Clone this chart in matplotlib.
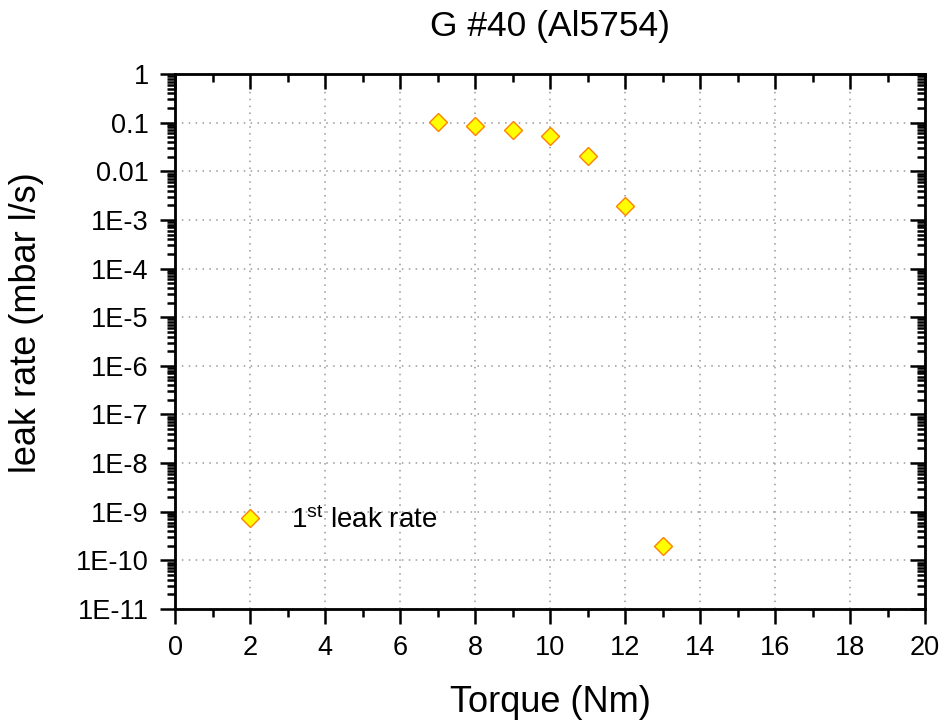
import matplotlib
matplotlib.use("Agg")
import matplotlib.pyplot as plt
from matplotlib.ticker import FixedLocator, MultipleLocator, LogLocator, NullFormatter

plt.rcParams['font.family'] = ['Liberation Sans', 'DejaVu Sans']
plt.rcParams['mathtext.default'] = 'regular'

# data
torque = [7, 8, 9, 10, 11, 12, 13]
leak_rate = [0.102, 0.087, 0.071, 0.054, 0.021, 0.0019, 1.94e-10]

title = "G #40 (Al5754)"
xlabel = "Torque (Nm)"
ylabel = "leak rate (mbar l/s)"
legend_label = "1$^{st}$ leak rate"

xticks = [0, 2, 4, 6, 8, 10, 12, 14, 16, 18, 20]
yticks = [1, 1e-1, 1e-2, 1e-3, 1e-4, 1e-5, 1e-6, 1e-7, 1e-8, 1e-9, 1e-10, 1e-11]
ytick_labels = ['1', '0.1', '0.01', '1E-3', '1E-4', '1E-5', '1E-6', '1E-7',
                '1E-8', '1E-9', '1E-10', '1E-11']

fig = plt.figure(figsize=(9.42, 7.22), dpi=100)
ax = fig.add_axes([0.1858, 0.1565, 0.7962, 0.741])

ax.plot(torque, leak_rate, linestyle='none', marker='D', markersize=9.6,
        markerfacecolor='#FFFF00', markeredgecolor='#FF7F00',
        markeredgewidth=1.0, label=legend_label, zorder=3)

ax.set_yscale('log')
ax.set_xlim(0, 20)
ax.set_ylim(1e-11, 1)

ax.set_xticks(xticks)
ax.xaxis.set_minor_locator(MultipleLocator(1))
ax.yaxis.set_major_locator(FixedLocator(yticks))
ax.set_yticklabels(ytick_labels)
ax.yaxis.set_minor_locator(LogLocator(base=10, subs=range(2, 10), numticks=20))
ax.yaxis.set_minor_formatter(NullFormatter())

ax.tick_params(which='both', direction='out', labelsize=19.5, width=1.8)
ax.tick_params(which='major', length=10.5)
ax.tick_params(axis='y', which='major', pad=8.5)
ax.tick_params(axis='x', which='major', pad=8)
ax.tick_params(which='minor', length=6)

for s in ax.spines.values():
    s.set_linewidth(2.0)

ax.grid(True, which='major', color='#999999', linestyle=(0, (1, 3.5)), linewidth=1.1)

# mirrored axes with inward ticks (top and right)
axt = ax.twiny()
axt.set_xlim(ax.get_xlim())
axt.set_xticks(xticks)
axt.xaxis.set_minor_locator(MultipleLocator(1))
axt.tick_params(which='both', direction='in', labeltop=False, width=1.8)
axt.tick_params(which='major', length=10.5)
axt.tick_params(which='minor', length=5.5)

axr = ax.twinx()
axr.set_yscale('log')
axr.set_ylim(ax.get_ylim())
axr.yaxis.set_major_locator(FixedLocator(yticks))
axr.yaxis.set_minor_locator(LogLocator(base=10, subs=range(2, 10), numticks=20))
axr.tick_params(which='both', direction='in', labelright=False, width=1.8)
axr.tick_params(which='major', length=10.5)
axr.tick_params(which='minor', length=5.5)

ax.set_title(title, fontsize=25.5, y=1.071, pad=0)
ax.set_xlabel(xlabel, fontsize=26)
ax.set_ylabel(ylabel, fontsize=26)
ax.xaxis.set_label_coords(0.5, -0.142)
ax.yaxis.set_label_coords(-0.175, 0.536)

ax.legend(loc='center left', bbox_to_anchor=(0.0813, 0.166), frameon=False,
          fontsize=20, handlelength=1.0, handletextpad=0.97, borderpad=0,
          borderaxespad=0)

fig.savefig("out.png", dpi=100)
